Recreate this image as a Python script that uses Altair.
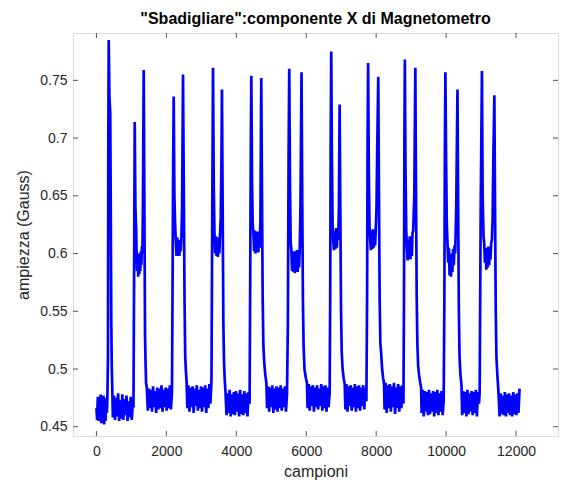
import altair as alt
import pandas as pd

# --- data (sample index, amplitude in Gauss) ---
campioni = [
    # baseline 0
    0, 20, 40, 60, 80, 100, 120, 140, 160, 180, 200, 220, 240, 260, 280, 300,
    # pulse 1
    315, 330, 340, 352, 372, 395, 410, 425, 440, 455,
    # baseline 1
    470, 500, 530, 560, 590, 620, 650, 680, 710, 740, 770, 800, 830, 860, 890, 920, 950, 980, 1010, 1040,
    # pulse 2
    1060, 1080, 1095, 1115, 1135, 1150, 1165, 1180, 1195, 1210, 1225, 1240, 1255, 1270, 1285, 1300, 1315, 1330, 1352, 1372, 1390, 1405, 1420,
    # baseline 2
    1440, 1470, 1500, 1530, 1560, 1590, 1620, 1650, 1680, 1710, 1740, 1770, 1800, 1830, 1860, 1890, 1920, 1950, 1980, 2010, 2040, 2070, 2100, 2130, 2160,
    # pulse 3
    2175, 2195, 2210, 2230, 2250, 2270, 2290, 2310, 2330, 2350, 2370, 2390, 2410, 2430, 2450, 2476, 2500, 2520, 2540, 2560, 2580,
    # baseline 3
    2600, 2630, 2660, 2690, 2720, 2750, 2780, 2810, 2840, 2870, 2900, 2930, 2960, 2990, 3020, 3050, 3080, 3110, 3140, 3170, 3200, 3230, 3260,
    # pulse 4
    3290, 3315, 3334, 3355, 3375, 3395, 3415, 3435, 3455, 3475, 3495, 3515, 3535, 3555, 3575, 3590, 3610, 3630, 3650, 3670,
    # baseline 4
    3690, 3720, 3750, 3780, 3810, 3840, 3870, 3900, 3930, 3960, 3990, 4020, 4050, 4080, 4110, 4140, 4170, 4200, 4230, 4260, 4290, 4320, 4350, 4380,
    # pulse 5
    4395, 4415, 4430, 4450, 4470, 4490, 4510, 4530, 4550, 4570, 4590, 4610, 4630, 4650, 4670, 4690, 4714, 4735, 4755, 4775, 4800, 4830, 4860,
    # baseline 5
    4880, 4910, 4940, 4970, 5000, 5030, 5060, 5090, 5120, 5150, 5180, 5210, 5240, 5270, 5300, 5330, 5360, 5390, 5420, 5450,
    # pulse 6
    5475, 5495, 5514, 5535, 5555, 5575, 5595, 5615, 5635, 5655, 5675, 5695, 5715, 5735, 5755, 5775, 5795, 5815, 5835, 5865, 5885, 5905, 5925, 5950, 5990, 6020,
    # baseline 6
    6040, 6070, 6100, 6130, 6160, 6190, 6220, 6250, 6280, 6310, 6340, 6370, 6400, 6430, 6460, 6490, 6520, 6550, 6580, 6610, 6640, 6670,
    # pulse 7
    6685, 6700, 6715, 6735, 6755, 6775, 6795, 6815, 6835, 6855, 6875, 6895, 6915, 6935, 6955, 6975, 6995, 7015, 7040, 7070, 7100,
    # baseline 7
    7120, 7150, 7180, 7210, 7240, 7270, 7300, 7330, 7360, 7390, 7420, 7450, 7480, 7510, 7540, 7570, 7600, 7630, 7660, 7690, 7720,
    # pulse 8
    7740, 7755, 7770, 7790, 7810, 7830, 7850, 7870, 7890, 7910, 7930, 7950, 7970, 7990, 8010, 8030, 8060, 8080, 8100, 8120, 8140, 8170, 8200, 8225,
    # baseline 8
    8240, 8270, 8300, 8330, 8360, 8390, 8420, 8450, 8480, 8510, 8540, 8570, 8600, 8630, 8660, 8690, 8720, 8750, 8780,
    # pulse 9
    8795, 8808, 8820, 8840, 8860, 8880, 8900, 8920, 8940, 8960, 8980, 9000, 9020, 9040, 9060, 9090, 9120, 9140, 9160, 9180, 9200, 9230, 9260, 9285,
    # baseline 9
    9300, 9330, 9360, 9390, 9420, 9450, 9480, 9510, 9540, 9570, 9600, 9630, 9660, 9690, 9720, 9750, 9780, 9810, 9840, 9870, 9900, 9930,
    # pulse 10
    9950, 9965, 9980, 10000, 10020, 10040, 10060, 10080, 10100, 10120, 10140, 10160, 10180, 10200, 10220, 10240, 10260, 10290, 10325, 10345, 10365, 10385, 10410, 10440,
    # baseline 10
    10460, 10490, 10520, 10550, 10580, 10610, 10640, 10670, 10700, 10730, 10760, 10790, 10820, 10850, 10880, 10910, 10940,
    # pulse 11
    10960, 10990, 11025, 11045, 11070, 11090, 11110, 11130, 11150, 11170, 11190, 11210, 11230, 11250, 11270, 11290, 11310, 11330, 11350, 11380, 11400, 11420, 11440, 11465, 11485,
    # baseline 11
    11500, 11530, 11560, 11590, 11620, 11650, 11680, 11710, 11740, 11770, 11800, 11830, 11860, 11890, 11920, 11950, 11980, 12010, 12040, 12070, 12100,
]

ampiezza = [
    # baseline 0
    .466, .456, .476, .455, .474, .460, .478, .453, .472, .458, .477, .452, .470, .455, .475, .462,
    # pulse 1
    .478, .510, .700, .785, .735, .722, .640, .540, .500, .482,
    # baseline 1
    .458, .477, .456, .475, .459, .479, .455, .473, .457, .478, .456, .474, .460, .477, .455, .472, .458, .476, .456, .471,
    # pulse 2
    .470, .600, .714, .640, .622, .598, .585, .600, .580, .598, .582, .600, .585, .602, .590, .606, .600, .640, .759, .640, .530, .505, .488,
    # baseline 2
    .484, .464, .483, .466, .482, .463, .485, .467, .481, .462, .484, .465, .483, .466, .486, .463, .482, .467, .484, .464, .483, .466, .486, .465, .480,
    # pulse 3
    .560, .680, .736, .650, .625, .612, .598, .614, .600, .612, .598, .610, .602, .614, .640, .755, .650, .560, .510, .498, .488,
    # baseline 3
    .466, .486, .463, .484, .467, .485, .462, .483, .468, .486, .464, .482, .466, .485, .463, .484, .467, .486, .462, .483, .466, .487, .470,
    # pulse 4
    .490, .650, .761, .660, .618, .600, .615, .598, .612, .597, .614, .600, .617, .630, .680, .742, .640, .540, .505, .490,
    # baseline 4
    .481, .460, .479, .462, .482, .459, .478, .461, .480, .460, .481, .463, .479, .459, .482, .461, .478, .460, .481, .462, .479, .459, .480, .470,
    # pulse 5
    .560, .690, .754, .660, .625, .618, .602, .620, .600, .617, .603, .619, .601, .616, .605, .630, .752, .650, .560, .520, .505, .495, .488,
    # baseline 5
    .466, .485, .463, .484, .467, .486, .462, .483, .465, .485, .463, .484, .466, .486, .464, .483, .467, .485, .463, .478,
    # pulse 6
    .540, .680, .760, .660, .610, .603, .585, .600, .584, .602, .583, .601, .586, .603, .584, .600, .588, .605, .640, .757, .650, .560, .520, .500, .492, .488,
    # baseline 6
    .466, .487, .464, .485, .468, .486, .463, .484, .467, .486, .465, .483, .468, .487, .464, .485, .466, .486, .463, .484, .467, .480,
    # pulse 7
    .560, .700, .775, .680, .623, .610, .603, .620, .604, .622, .605, .618, .612, .640, .729, .640, .550, .515, .500, .492, .487,
    # baseline 7
    .465, .487, .463, .485, .468, .486, .464, .484, .467, .487, .463, .485, .466, .486, .464, .484, .468, .486, .465, .483, .472,
    # pulse 8
    .560, .700, .765, .670, .623, .612, .603, .620, .604, .621, .605, .618, .607, .622, .640, .690, .753, .650, .560, .522, .515, .500, .492, .487,
    # baseline 8
    .465, .488, .462, .486, .466, .487, .463, .485, .467, .488, .461, .484, .466, .487, .463, .485, .466, .486, .470,
    # pulse 9
    .560, .700, .768, .670, .620, .606, .594, .612, .596, .615, .595, .612, .598, .618, .620, .650, .761, .650, .560, .520, .503, .494, .488, .484,
    # baseline 9
    .462, .482, .459, .481, .463, .480, .460, .482, .461, .479, .463, .481, .459, .480, .462, .482, .460, .479, .463, .481, .460, .472,
    # pulse 10
    .560, .690, .757, .680, .625, .609, .592, .605, .581, .600, .580, .598, .584, .604, .590, .607, .600, .640, .742, .640, .550, .510, .495, .486,
    # baseline 10
    .460, .481, .462, .480, .459, .482, .461, .479, .463, .481, .460, .480, .462, .482, .459, .480, .470,
    # pulse 11
    .480, .640, .758, .650, .615, .609, .592, .605, .586, .603, .588, .606, .590, .604, .595, .609, .612, .630, .680, .737, .640, .550, .510, .495, .486,
    # baseline 11
    .478, .459, .479, .461, .477, .460, .480, .459, .478, .462, .479, .460, .477, .459, .480, .461, .478, .460, .479, .462, .483,
]

x_ticks = [0, 2000, 4000, 6000, 8000, 10000, 12000]
y_ticks = [0.45, 0.5, 0.55, 0.6, 0.65, 0.7, 0.75]

X_DOMAIN = [-670, 13200]
Y_DOMAIN = [0.442, 0.791]
W, H = 485, 403
FONT = "Liberation Sans"

df = pd.DataFrame({"campioni": campioni, "ampiezza": ampiezza})
xt = pd.DataFrame({"t": x_ticks})
yt = pd.DataFrame({"t": y_ticks})

xscale = alt.Scale(domain=X_DOMAIN, nice=False, zero=False)
yscale = alt.Scale(domain=Y_DOMAIN, nice=False, zero=False)

line = alt.Chart(df).mark_line(color="#0000ff", strokeWidth=2.7, clip=True).encode(
    x=alt.X("campioni:Q", scale=xscale,
            axis=alt.Axis(values=x_ticks, format="d", title="campioni", grid=False, ticks=False,
                          domain=False, labelFontSize=14, labelPadding=8,
                          titleFontSize=16, titleFontWeight="normal", titlePadding=5,
                          labelColor="#262626", titleColor="#262626", labelFlush=False)),
    y=alt.Y("ampiezza:Q", scale=yscale,
            axis=alt.Axis(values=y_ticks, format=".2~f", title="ampiezza (Gauss)", grid=False,
                          ticks=False, domain=False, labelFontSize=14, labelPadding=6,
                          titleFontSize=16, titleFontWeight="normal", titlePadding=8,
                          labelColor="#262626", titleColor="#262626", labelFlush=False)),
)

tick_color = "#555555"
bottom_ticks = alt.Chart(xt).mark_rule(color=tick_color, strokeWidth=1).encode(
    x=alt.X("t:Q", scale=xscale), y=alt.value(H), y2=alt.value(H - 5))
top_ticks = alt.Chart(xt).mark_rule(color=tick_color, strokeWidth=1).encode(
    x=alt.X("t:Q", scale=xscale), y=alt.value(0), y2=alt.value(5))
left_ticks = alt.Chart(yt).mark_rule(color=tick_color, strokeWidth=1).encode(
    y=alt.Y("t:Q", scale=yscale), x=alt.value(0), x2=alt.value(5))
right_ticks = alt.Chart(yt).mark_rule(color=tick_color, strokeWidth=1).encode(
    y=alt.Y("t:Q", scale=yscale), x=alt.value(W), x2=alt.value(W - 5))

chart = alt.layer(line, bottom_ticks, top_ticks, left_ticks, right_ticks).properties(
    width=W, height=H,
    title=alt.TitleParams('"Sbadigliare":componente X di Magnetometro', fontSize=16,
                          fontWeight="bold", font=FONT, color="#000000", anchor="middle",
                          offset=6),
    autosize=alt.AutoSizeParams(type="none"),
    padding={"left": 73, "top": 33, "right": 16, "bottom": 52},
).configure_view(
    stroke="#555555", strokeWidth=1
).configure_axis(
    labelFont=FONT, titleFont=FONT
).configure(background="white")

chart.save("out.html", embed_options={"renderer": "svg", "actions": False})
